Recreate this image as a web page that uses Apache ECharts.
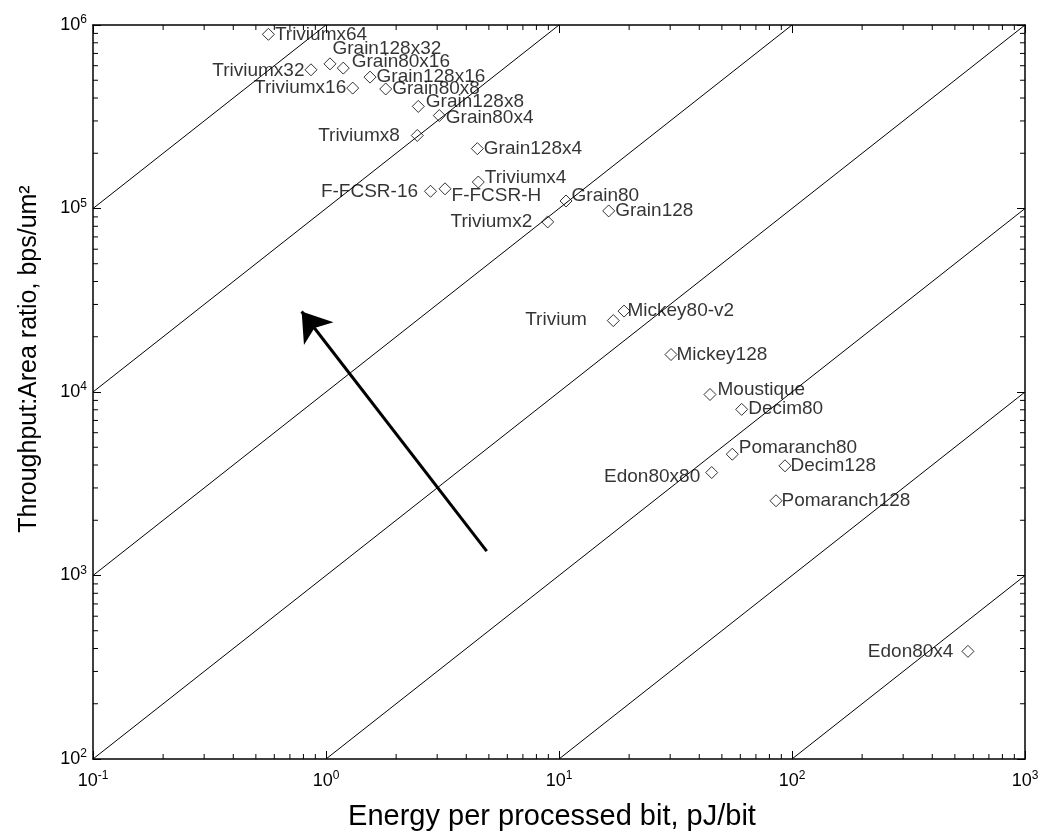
<!DOCTYPE html>
<html>
<head>
<meta charset="utf-8">
<script src="https://cdn.jsdelivr.net/npm/echarts@6/dist/echarts.min.js"></script>
<style>
html,body{margin:0;padding:0;background:#fff;}
#chart{width:1043px;height:836px;}
</style>
</head>
<body>
<div id="chart"></div>
<script>
// ---- Data ----
const names = ['Triviumx64','Grain128x32','Triviumx32','Grain80x16','Grain128x16','Triviumx16','Grain80x8','Grain128x8','Grain80x4','Triviumx8','Grain128x4','Triviumx4','F-FCSR-16','F-FCSR-H','Grain80','Triviumx2','Grain128','Trivium','Mickey80-v2','Mickey128','Moustique','Decim80','Pomaranch80','Decim128','Edon80x80','Pomaranch128','Edon80x4'];
const energyPerBit = [0.566,1.04,0.862,1.186,1.545,1.302,1.804,2.489,3.064,2.465,4.461,4.504,2.809,3.242,10.72,8.944,16.34,17.10,19.01,30.25,44.47,60.83,55.43,93.3,45.22,85.4,569];
const throughputArea = [890000,614000,570000,582000,520000,453000,448000,360000,321000,250000,212000,139400,124100,128000,109900,84500,97000,24500,27600,16000,9690,8040,4580,3960,3640,2555,386];
// constant-ratio guide lines (throughput:area / energy)
const ratioLines = [1e6,1e5,1e4,1e3,1e2,1e1,1e0];
// annotation arrow (data coordinates: tail, head)
const arrowTail = [4.894, 1357];
const arrowHead = [0.786, 27460];
// axis ranges
const xRange = [0.1, 1000];
const yRange = [100, 1e6];
const minorMultipliers = [2,3,4,5,6,7,8,9];
const xDecades = [0.1, 1, 10, 100];
const yDecades = [100, 1000, 10000, 100000];

// ---- Label placement (style only): [side, dx, dy] ----
const labelPlace = {
  'Triviumx64':['right',0,0], 'Grain128x32':['right',-4,-15], 'Triviumx32':['left',0,1],
  'Grain80x16':['right',2,-6], 'Grain128x16':['right',0,0], 'Triviumx16':['left',0,0],
  'Grain80x8':['right',0,0], 'Grain128x8':['right',1,-5], 'Grain80x4':['right',0,2],
  'Triviumx8':['left',-11,0], 'Grain128x4':['right',0,0], 'Triviumx4':['right',0,-4],
  'F-FCSR-16':['left',-6,0], 'F-FCSR-H':['right',0,7], 'Grain80':['right',-1,-5],
  'Triviumx2':['left',-9,0], 'Grain128':['right',0,0], 'Trivium':['left',-20,-1],
  'Mickey80-v2':['right',-3,0], 'Mickey128':['right',-1,0], 'Moustique':['right',1,-5],
  'Decim80':['right',0,-1], 'Pomaranch80':['right',0,-6], 'Decim128':['right',-1,0],
  'Edon80x80':['left',-5,4], 'Pomaranch128':['right',-1,0], 'Edon80x4':['left',-8,0]
};

const FONT = '"Liberation Sans", Arial, Helvetica, sans-serif';

const xMinor = [];
xDecades.forEach(d => minorMultipliers.forEach(m => xMinor.push(d * m)));
const yMinor = [];
yDecades.forEach(d => minorMultipliers.forEach(m => yMinor.push(d * m)));

const scatterData = names.map((n, i) => {
  const p = labelPlace[n] || ['right',0,0];
  return {
    name: n,
    value: [energyPerBit[i], throughputArea[i]],
    label: { position: p[0], offset: [p[1], p[2]] }
  };
});

const lineSeries = ratioLines.map(r => {
  const x0 = Math.max(xRange[0], yRange[0] / r);
  const x1 = Math.min(xRange[1], yRange[1] / r);
  return {
    type: 'line', silent: true, symbol: 'none', animation: false,
    xAxisIndex: 0, yAxisIndex: 0,
    lineStyle: { color: '#000', width: 1 },
    data: [[x0, r * x0], [x1, r * x1]],
    z: 1
  };
});

const supLabel = v => '{b|10}{s|' + Math.round(Math.log10(v)) + '}';
const richLbl = {
  b: { fontSize: 18, fontFamily: FONT, color: '#000' },
  s: { fontSize: 12, fontFamily: FONT, color: '#000', padding: [0, 0, 10, 0] }
};

const axisCommon = {
  type: 'log', logBase: 10,
  splitLine: { show: false },
  axisLine: { show: true, lineStyle: { color: '#000', width: 1.5 } },
  axisTick: { show: true, inside: true, length: 8, lineStyle: { color: '#000', width: 1 } },
  minorTick: { show: false }
};

const chart = echarts.init(document.getElementById('chart'), null, { renderer: 'canvas' });
chart.setOption({
  animation: false,
  backgroundColor: '#fff',
  textStyle: { fontFamily: FONT },
  grid: { left: 93, right: 18, top: 25, bottom: 74, containLabel: false },
  xAxis: [
    Object.assign({}, axisCommon, {
      position: 'bottom', min: xRange[0], max: xRange[1], interval: 1,
      axisLabel: { margin: 11, formatter: supLabel, rich: richLbl },
      name: 'Energy per processed bit, pJ/bit', nameLocation: 'middle', nameGap: 43,
      nameTextStyle: { fontSize: 29, color: '#000', fontFamily: FONT, padding: [0, 14, 0, 0] }
    }),
    Object.assign({}, axisCommon, {
      position: 'top', min: xRange[0], max: xRange[1], interval: 1,
      axisLabel: { show: false }
    })
  ],
  yAxis: [
    Object.assign({}, axisCommon, {
      position: 'left', min: yRange[0], max: yRange[1], interval: 1,
      axisLabel: { margin: 6, formatter: supLabel, rich: richLbl },
      name: 'Throughput:Area ratio, bps/um\u00b2', nameLocation: 'middle', nameRotate: 90, nameGap: 51,
      nameTextStyle: { fontSize: 25, color: '#000', fontFamily: FONT, padding: [0, 0, 0, 66] }
    }),
    Object.assign({}, axisCommon, {
      position: 'right', min: yRange[0], max: yRange[1], interval: 1,
      axisLabel: { show: false }
    })
  ],
  series: lineSeries.concat([
    {
      type: 'custom', silent: true, xAxisIndex: 0, yAxisIndex: 0, clip: false,
      data: xMinor.map(v => [v, yRange[0]]),
      renderItem: (params, api) => {
        const p = api.coord([api.value(0), yRange[0]]);
        const cs = params.coordSys;
        const st = { stroke: '#000', lineWidth: 1 };
        return { type: 'group', children: [
          { type: 'line', shape: { x1: p[0], y1: cs.y + cs.height, x2: p[0], y2: cs.y + cs.height - 5 }, style: st },
          { type: 'line', shape: { x1: p[0], y1: cs.y, x2: p[0], y2: cs.y + 5 }, style: st }
        ]};
      }
    },
    {
      type: 'custom', silent: true, xAxisIndex: 0, yAxisIndex: 0, clip: false,
      data: yMinor.map(v => [xRange[0], v]),
      renderItem: (params, api) => {
        const p = api.coord([xRange[0], api.value(1)]);
        const cs = params.coordSys;
        const st = { stroke: '#000', lineWidth: 1 };
        return { type: 'group', children: [
          { type: 'line', shape: { x1: cs.x, y1: p[1], x2: cs.x + 5, y2: p[1] }, style: st },
          { type: 'line', shape: { x1: cs.x + cs.width, y1: p[1], x2: cs.x + cs.width - 5, y2: p[1] }, style: st }
        ]};
      }
    },
    {
      type: 'lines', coordinateSystem: 'cartesian2d', xAxisIndex: 0, yAxisIndex: 0, silent: true,
      symbol: ['none', 'arrow'], symbolSize: [23, 28],
      lineStyle: { color: '#000', width: 3, opacity: 1, curveness: 0 },
      data: [{ coords: [arrowTail, arrowHead] }],
      z: 3
    },
    {
      type: 'scatter', xAxisIndex: 0, yAxisIndex: 0,
      symbol: 'diamond', symbolSize: 12,
      itemStyle: { color: 'rgba(255,255,255,0)', borderColor: '#000', borderWidth: 1 },
      label: { show: true, formatter: '{b}', distance: 0, color: '#000', fontSize: 19, fontFamily: FONT },
      data: scatterData,
      z: 4
    }
  ])
});
</script>
</body>
</html>
